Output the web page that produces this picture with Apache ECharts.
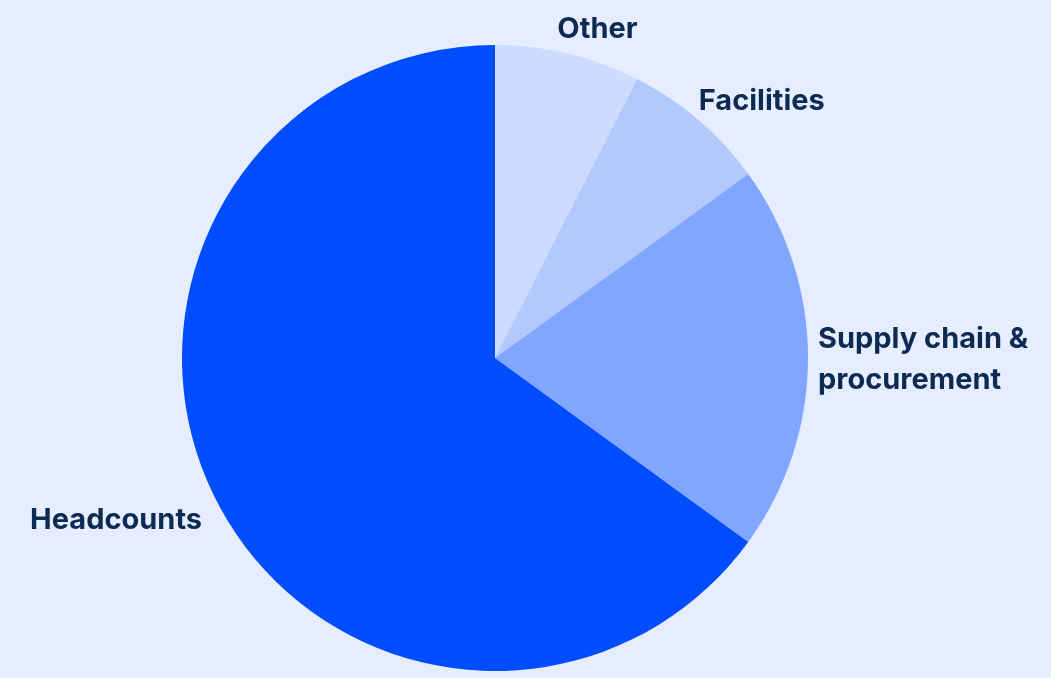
<!DOCTYPE html>
<html>
<head>
<meta charset="utf-8">
<script src="https://cdn.jsdelivr.net/npm/echarts@6/dist/echarts.min.js"></script>
<style>
  html, body { margin: 0; padding: 0; background: #E5EDFE; }
  #chart { width: 1051px; height: 678px; }
</style>
</head>
<body>
<div id="chart"></div>
<script>
// Cost breakdown (share of total, %)
const categories = ['Other', 'Facilities', 'Supply chain &\nprocurement', 'Headcounts'];
const shares = [7.5, 7.5, 20, 65];
const sliceColors = ['#CCDCFE', '#B3C9FE', '#80A6FF', '#004DFF'];

const chart = echarts.init(document.getElementById('chart'));

chart.setOption({
  backgroundColor: '#E5EDFE',
  animation: false,
  series: [{
    type: 'pie',
    center: [495, 358],
    radius: 313,
    startAngle: 90,
    clockwise: true,
    avoidLabelOverlap: false,
    data: categories.map((name, i) => ({
      name: name,
      value: shares[i],
      itemStyle: { color: sliceColors[i] }
    })),
    itemStyle: { borderWidth: 0 },
    label: {
      show: true,
      position: 'outside',
      formatter: '{b}',
      color: '#0D2B52',
      fontFamily: 'Inter',
      fontWeight: 'bold',
      fontSize: 29,
      lineHeight: 41,
      overflow: 'none',
      distanceToLabelLine: -20
    },
    labelLine: { show: false, length: 27, length2: 0 },
    // left-hand labels sit a little further out and lower
    labelLayout: function (params) {
      if (params.align === 'right') {
        return { dx: -10, dy: 8 };
      }
      return { dx: 3, dy: 2 };
    },
    emphasis: { disabled: true }
  }]
});
</script>
</body>
</html>
